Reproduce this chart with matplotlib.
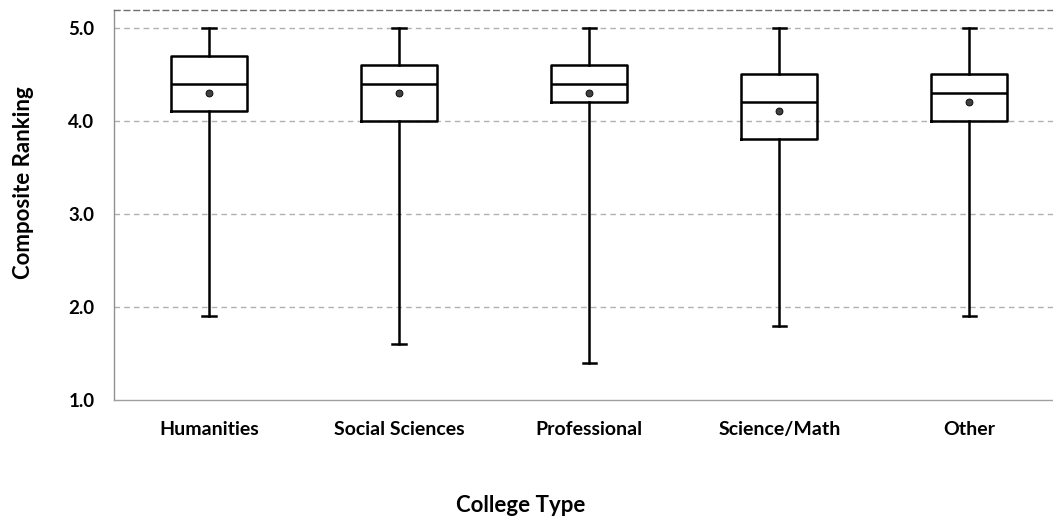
import matplotlib
matplotlib.use("Agg")
import matplotlib.pyplot as plt

plt.rcParams['font.family'] = ['Lato', 'DejaVu Sans']

# Five-number summaries and means per college type
categories = ["Humanities", "Social Sciences", "Professional", "Science/Math", "Other"]
whisker_low = [1.9, 1.6, 1.4, 1.8, 1.9]
q1 = [4.1, 4.0, 4.2, 3.8, 4.0]
median = [4.4, 4.4, 4.4, 4.2, 4.3]
q3 = [4.7, 4.6, 4.6, 4.5, 4.5]
whisker_high = [5.0, 5.0, 5.0, 5.0, 5.0]
mean = [4.3, 4.3, 4.3, 4.1, 4.2]
y_ticks = [1.0, 2.0, 3.0, 4.0, 5.0]

fig = plt.figure(figsize=(10.53, 5.2), dpi=100)
ax = fig.add_axes([114 / 1053, 1 - 400 / 520, 1 - 114 / 1053, 390 / 520])

stats = []
for i, name in enumerate(categories):
    stats.append(dict(label=name, whislo=whisker_low[i], q1=q1[i], med=median[i],
                      q3=q3[i], whishi=whisker_high[i], mean=mean[i], fliers=[]))

positions = list(range(len(categories)))
ax.bxp(stats, positions=positions, widths=0.4, showmeans=True, showfliers=False,
       boxprops=dict(color="black", linewidth=1.8),
       medianprops=dict(color="black", linewidth=1.8),
       whiskerprops=dict(color="black", linewidth=1.8),
       capprops=dict(color="black", linewidth=1.8),
       capwidths=0.07,
       meanprops=dict(marker="o", markerfacecolor="#404040", markeredgecolor="black",
                      markeredgewidth=0.6, markersize=5))

ax.set_xlim(-0.5, 4.44)
ax.set_ylim(1.0, 5.19)
ax.set_yticks(y_ticks)
ax.set_yticklabels([f"{v:.1f}" for v in y_ticks], fontsize=13.5, fontweight="bold")
ax.set_xticks(positions)
ax.set_xticklabels(categories, fontsize=14, fontweight="bold")
ax.tick_params(axis="both", length=0)
ax.tick_params(axis="x", pad=15)
ax.tick_params(axis="y", pad=14)

for y in y_ticks[1:]:
    ax.axhline(y, color="#b0b0b0", linestyle=(0, (4, 3)), linewidth=1.0, zorder=0)

ax.spines["right"].set_visible(False)
ax.spines["top"].set_color("#707070")
ax.spines["top"].set_linestyle((0, (4, 3)))
ax.spines["left"].set_color("#909090")
ax.spines["left"].set_linestyle((0, (4, 1)))
ax.spines["bottom"].set_color("#a0a0a0")
ax.spines["bottom"].set_linestyle((0, (4, 1)))
for s in ax.spines.values():
    s.set_linewidth(1.0)

fig.text(24 / 1053, 1 - 183 / 520, "Composite Ranking", rotation=90, ha="center", va="center",
         fontsize=16, fontweight="bold")
fig.text(521 / 1053, 1 - 505 / 520, "College Type", ha="center", va="center",
         fontsize=16, fontweight="bold")

fig.savefig("out.png", dpi=100)
